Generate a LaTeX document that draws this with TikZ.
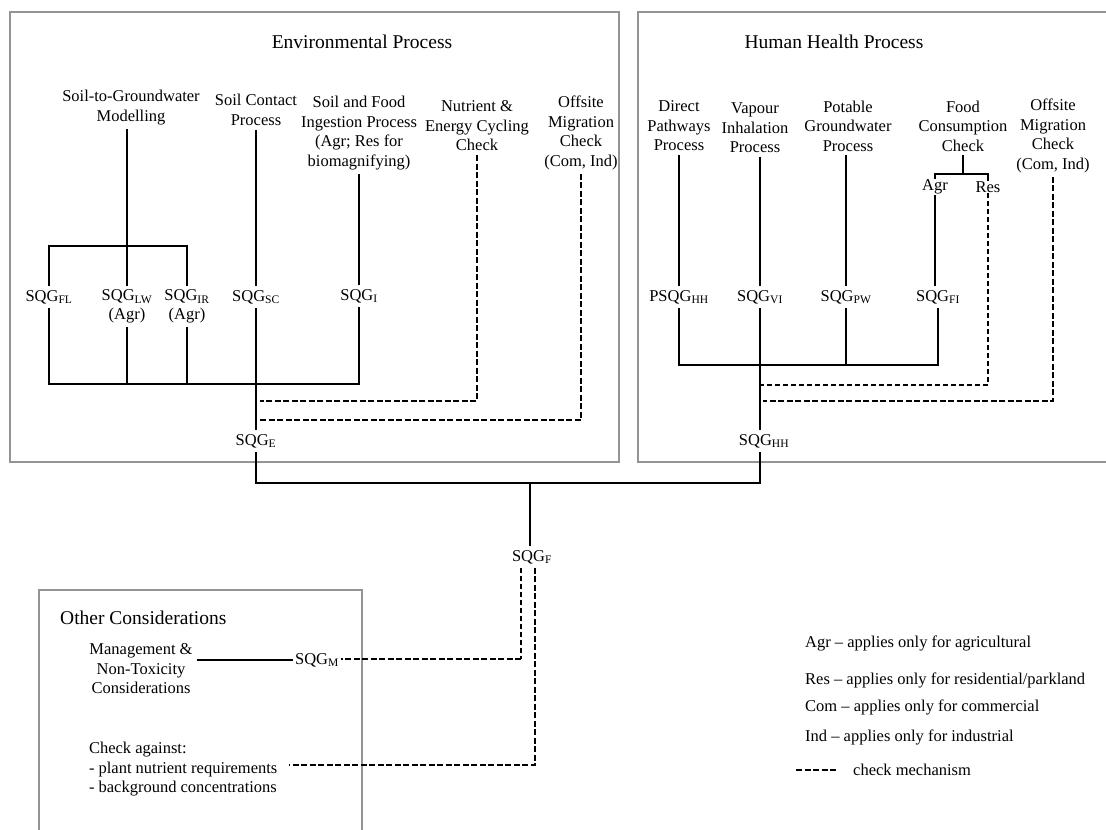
\documentclass[tikz,border=0pt]{standalone}
\usepackage{fontspec}
\setmainfont{Liberation Serif}
\newcommand{\sqg}[1]{SQG\textsubscript{#1}}
\begin{document}
\begin{tikzpicture}[x=1pt,y=-1pt,
  frame/.style={draw=black!42, line width=2.7pt},
  conn/.style={line width=1.3pt},
  chk/.style={line width=2.6pt, dash pattern=on 6pt off 2.5pt},
  chkthin/.style={line width=1.2pt, dash pattern=on 5pt off 3pt},
  lbl/.style={font=\fontsize{16.5}{19.5}\selectfont, align=center, inner sep=0pt, outer sep=4pt},
  ttl/.style={font=\fontsize{19.5}{23}\selectfont, inner sep=0pt},
  leg/.style={font=\fontsize{16.5}{19.5}\selectfont, inner sep=0pt, anchor=west}]
\useasboundingbox (0,0) rectangle (1106,830);
% frames
\draw[frame] (10,12) rectangle (619,462);
\draw[frame] (1110,12) -- (638,12) -- (638,462) -- (1110,462);
\draw[frame] (39,835) -- (39,590) -- (362,590) -- (362,835);
% titles
\node[ttl] (envt) at (362,42) {Environmental Process};
\node[ttl] (hht) at (834,42) {Human Health Process};
\node[ttl, anchor=west] (othert) at (60,618) {Other Considerations};
% environmental
\node[lbl] (s2g) at (131,107.5) {Soil-to-Groundwater\\Modelling};
\node[lbl] (sc) at (256,110) {Soil Contact\\Process};
\node[lbl] (sfi) at (359,133) {Soil and Food\\Ingestion Process\\(Agr; Res for\\biomagnifying)};
\node[lbl] (nec) at (477,126) {Nutrient \&\\Energy Cycling\\Check};
\node[lbl] (omc1) at (581,133) {Offsite\\Migration\\Check\\(Com, Ind)};
\node[lbl] (fl) at (49,297) {\sqg{FL}};
\node[lbl] (lw) at (127,306.5) {\sqg{LW}\\(Agr)};
\node[lbl] (ir) at (187,306.5) {\sqg{IR}\\(Agr)};
\node[lbl] (scq) at (256,297) {\sqg{SC}};
\node[lbl] (iq) at (359,296) {\sqg{I}};
\node[lbl] (sqge) at (256,441) {\sqg{E}};
\coordinate (b1) at (127,246);
\coordinate (b2) at (127,384);
\coordinate (d1) at (260,401);
\coordinate (d2) at (260,420);
\draw[conn] (b1 |- s2g.south) -- (b1);
\draw[conn] (fl.north) -- (fl.north |- b1) -- (ir.north |- b1) -- (ir.north);
\draw[conn] (b1) -- (b1 |- lw.north);
\draw[conn] (fl.south) -- (fl.south |- b2) -- (iq.south |- b2) -- (iq.south);
\draw[conn] (b2 |- lw.south) -- (b2);
\draw[conn] (ir.south) -- (ir.south |- b2);
\draw[conn] (sc.south) -- (scq.north);
\draw[conn] (scq.south) -- (sqge.north);
\draw[conn] (sfi.south) -- (iq.north);
\draw[chk] (nec.south) -- (nec.south |- d1) -- (d1);
\draw[chk] (omc1.south) -- (omc1.south |- d2) -- (d2);
% human health
\node[lbl] (dpp) at (679,126) {Direct\\Pathways\\Process};
\node[lbl] (vip) at (755,128) {Vapour\\Inhalation\\Process};
\node[lbl] (pgp) at (848,126) {Potable\\Groundwater\\Process};
\node[lbl] (fcc) at (963,126) {Food\\Consumption\\Check};
\node[lbl] (omc2) at (1053,136) {Offsite\\Migration\\Check\\(Com, Ind)};
\node[lbl, outer sep=1pt] (agr) at (935,187) {Agr};
\node[lbl, outer sep=1pt] (res) at (988,187) {Res};
\node[lbl] (psqg) at (679,297) {PSQG\textsubscript{HH}};
\node[lbl] (vi) at (760,297) {\sqg{VI}};
\node[lbl] (pw) at (846,297) {\sqg{PW}};
\node[lbl] (fi) at (938,297) {\sqg{FI}};
\node[lbl] (sqghh) at (764,441) {\sqg{HH}};
\coordinate (fb) at (963,174);
\coordinate (hb) at (846,365);
\coordinate (rd) at (758,385);
\coordinate (od) at (763,401);
\draw[conn] (dpp.south) -- (psqg.north);
\draw[conn] (vi.north |- vip.south) -- (vi.north);
\draw[conn] (pw.north |- pgp.south) -- (pw.north);
\draw[conn] (fcc.south) -- (fb);
\draw[conn] (agr.north) -- (agr.north |- fb) -- (res.north |- fb) -- (res.north);
\draw[conn] (agr.south) -- (agr.south |- fi.north);
\draw[conn] (psqg.south) -- (psqg.south |- hb) -- (fi.south |- hb) -- (fi.south);
\draw[conn] (pw.south) -- (hb);
\draw[conn] (vi.south) -- (vi.south |- sqghh.north);
\draw[chkthin] (res.south) -- (res.south |- rd) -- (rd);
\draw[chk] (omc2.south) -- (omc2.south |- od) -- (od);
% final
\node[lbl] (sqgf) at (532,557) {\sqg{F}};
\coordinate (jf) at (530,483);
\draw[conn] (sqge.south) -- (sqge.south |- jf) -- (vi.south |- jf) -- (vi.south |- sqghh.south);
\draw[conn] (jf) -- (jf |- sqgf.north);
% other considerations
\node[lbl] (mgmt) at (141,669) {Management \&\\Non-Toxicity\\Considerations};
\node[lbl, outer sep=2pt] (sqgm) at (317,660) {\sqg{M}};
\node[lbl, align=left, anchor=west, outer sep=0pt] (chka) at (89,769.5) {Check against:\\- plant nutrient requirements\\- background concentrations};
\coordinate (fm) at (521,659);
\coordinate (fc) at (535,765);
\draw[conn] (sqgm.west -| mgmt.east) -- (sqgm.west);
\draw[chkthin] (fm |- sqgf.south) -- (fm);
\draw[chk] (fm) -- (fm -| sqgm.east);
\draw[chk] (fc |- sqgf.south) -- (fc) -- (289,765);
% legend
\node[leg] (lg1) at (805,643) {Agr – applies only for agricultural};
\node[leg] (lg2) at (805,680) {Res – applies only for residential/parkland};
\node[leg] (lg3) at (805,707) {Com – applies only for commercial};
\node[leg] (lg4) at (805,737) {Ind – applies only for industrial};
\node[leg] (lg5) at (853,770) {check mechanism};
\coordinate (lgs) at (796,770);
\draw[chk] (lgs) -- (lgs -| 837,0);
\end{tikzpicture}
\end{document}
